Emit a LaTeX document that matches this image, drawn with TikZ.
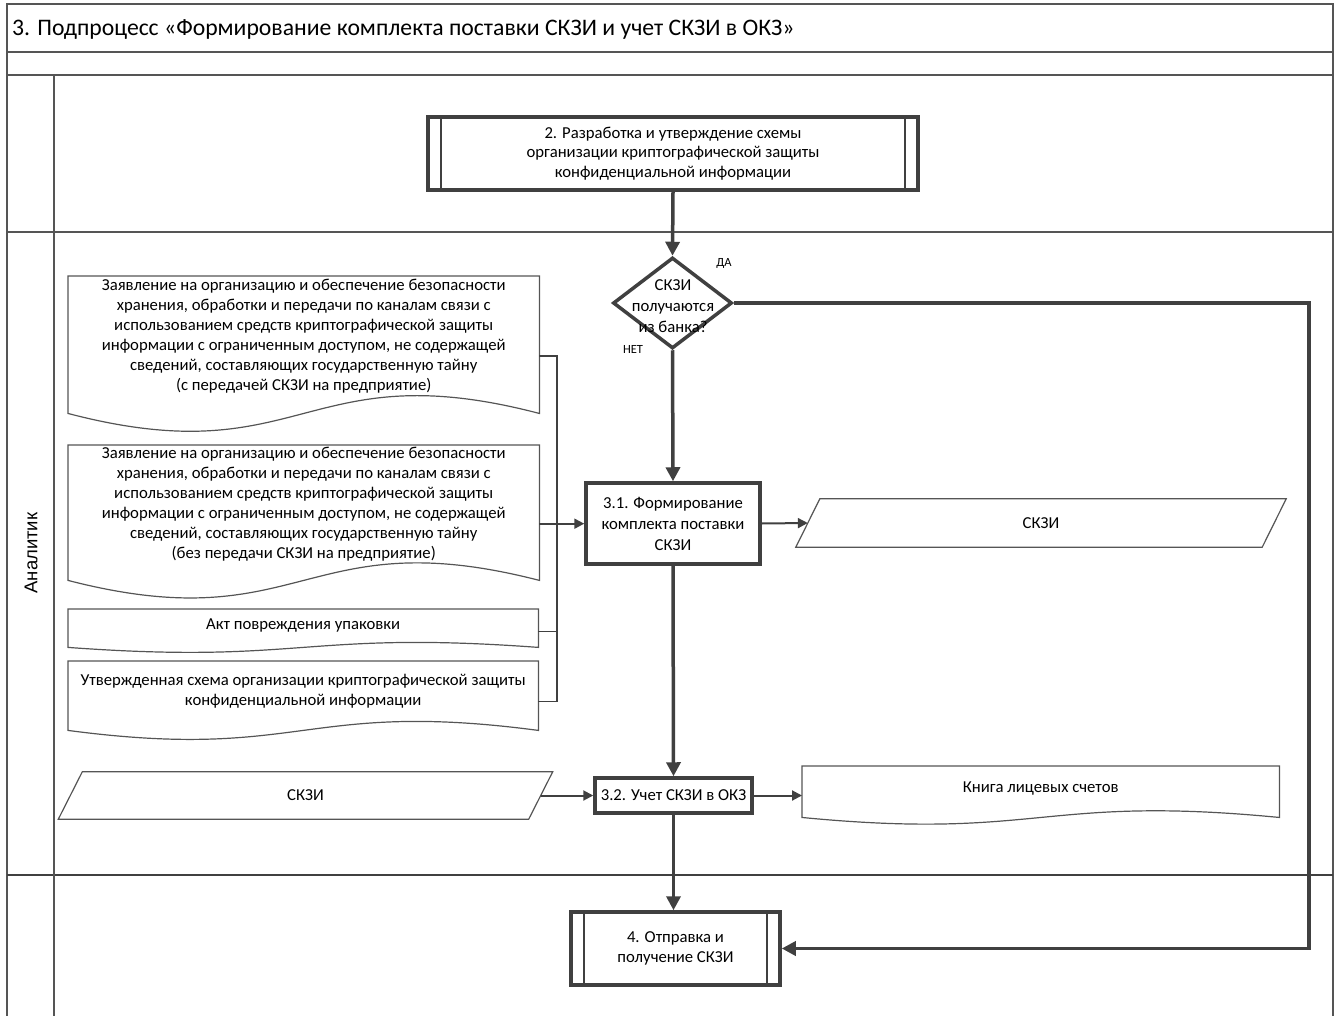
\documentclass[tikz,border=0pt]{standalone}
\usepackage{fontspec}
\setmainfont{Carlito}
\newfontfamily\lanefont{Liberation Sans}
\usetikzlibrary{shapes.geometric,arrows.meta,calc,positioning}

\definecolor{linegray}{HTML}{404040}
\definecolor{framegray}{HTML}{555555}

% document outline with wavy bottom
\newcommand{\docframe}[1]{%
  \draw[docline] (#1.north west) -- (#1.north east)
    -- ($(#1.south east)!-0.136!(#1.north east)$)
    .. controls ($(#1.south)!0.374!(#1.north)$) and ($(#1.south)!-0.646!(#1.north)$)
    .. ($(#1.south west)!-0.136!(#1.north west)$) -- cycle;}
% slanted data outline
\newcommand{\dataframe}[1]{%
  \draw[docline] ([xshift=12pt]#1.north west) -- ([xshift=12pt]#1.north east)
    -- ([xshift=-12pt]#1.south east) -- ([xshift=-12pt]#1.south west) -- cycle;}
% side bars of a predefined process
\newcommand{\subbars}[1]{%
  \draw[procline] ([xshift=15pt]#1.north west) -- ([xshift=15pt]#1.south west)
    ([xshift=-15pt]#1.north east) -- ([xshift=-15pt]#1.south east);}

\begin{document}
\begin{tikzpicture}[x=1pt,y=-1pt,
  txt/.style={font=\fontsize{16.7}{19.5}\selectfont, align=center},
  proc/.style={txt, rectangle, draw=linegray, line width=3.5pt, inner sep=0pt},
  procline/.style={draw=linegray, line width=2pt},
  decision/.style={diamond, draw=linegray, line width=3.5pt, inner sep=0pt,
    minimum width=119pt, minimum height=91pt},
  docbox/.style={rectangle, inner sep=0pt, anchor=north west, align=center,
    font=\fontsize{16.7}{20}\selectfont},
  docline/.style={draw=framegray, line width=1.2pt},
  data/.style={txt, rectangle, inner sep=0pt},
  flow/.style={draw=linegray, line width=3.5pt, -{Triangle[length=14pt,width=14pt]}},
  link/.style={draw=linegray, line width=2pt, -{Triangle[length=10pt,width=10pt]}},
  wire/.style={draw=linegray, line width=1.5pt},
  lane/.style={draw=framegray, line width=1.5pt},
  small/.style={font=\fontsize{12.5}{15}\selectfont}
]
  \useasboundingbox (0,0) rectangle (1340,1016);

  % Pool frame and lanes
  \draw[lane] (7,1016) -- (7,4) -- (1333,4) -- (1333,1016);
  \draw[lane] (7,52) -- (1333,52);
  \draw[lane] (7,75) -- (1333,75);
  \draw[lane] (7,232) -- (1333,232);
  \draw[lane, line width=2.5pt, draw=linegray] (7,875) -- (1333,875);
  \draw[lane] (54,75) -- (54,1016);
  \node[anchor=west, inner sep=0pt, font=\fontsize{23.7}{28}\selectfont] (title) at (12,29)
    {3. Подпроцесс «Формирование комплекта поставки СКЗИ и учет СКЗИ в ОКЗ»};
  \node[rotate=90, font=\lanefont\fontsize{18.5}{22}\selectfont] (analyst) at (31,553) {Аналитик};

  % Process boxes
  \node[proc, minimum width=490pt, minimum height=73pt] (scheme) at (673,153.5)
    {2. Разработка и утверждение схемы\\организации криптографической защиты\\конфиденциальной информации};
  \subbars{scheme}
  \node[decision] (bankq) at (672.5,303) {};
  \node[txt, inner sep=0pt, font=\fontsize{16.7}{21}\selectfont] (bankqtxt) at (673,306)
    {СКЗИ\\получаются\\из банка?};
  \node[small] (yes) at (724,263) {ДА};
  \node[small] (no) at (633,349) {НЕТ};
  \node[proc, minimum width=174pt, minimum height=81pt, font=\fontsize{16.7}{21}\selectfont] (form) at (673,523.5)
    {3.1. Формирование\\комплекта поставки\\СКЗИ};
  \node[data, minimum width=466pt, minimum height=48pt] (skziout) at (1041,523) {СКЗИ};
  \dataframe{skziout}
  \node[proc, minimum width=157pt, minimum height=35pt] (account) at (673.5,795.5) {3.2. Учет СКЗИ в ОКЗ};
  \node[data, minimum width=470pt, minimum height=47pt] (skziin) at (305.5,795.5) {СКЗИ};
  \dataframe{skziin}
  \node[proc, minimum width=209pt, minimum height=73pt] (send) at (675.5,948.5)
    {4. Отправка и\\получение СКЗИ};
  \subbars{send}

  % Input documents
  \node[docbox, minimum width=471pt, minimum height=120.6pt] (doc1) at (68,276)
    {Заявление на организацию и обеспечение безопасности\\хранения, обработки и передачи по каналам связи с\\использованием средств криптографической защиты\\информации с ограниченным доступом, не содержащей\\сведений, составляющих государственную тайну\\(с передачей СКЗИ на предприятие)};
  \node[docbox, minimum width=471pt, minimum height=118.8pt] (doc2) at (68,445)
    {Заявление на организацию и обеспечение безопасности\\хранения, обработки и передачи по каналам связи с\\использованием средств криптографической защиты\\информации с ограниченным доступом, не содержащей\\сведений, составляющих государственную тайну\\(без передачи СКЗИ на предприятие)};
  \node[docbox, minimum width=470pt, minimum height=33.4pt] (doc3) at (68,609)
    {Акт повреждения упаковки};
  \node[docbox, minimum width=470pt, minimum height=60.7pt] (doc4) at (68,661)
    {Утвержденная схема организации криптографической защиты\\конфиденциальной информации};
  \node[docbox, minimum width=477pt, minimum height=44.9pt] (book) at (802,766)
    {Книга лицевых счетов};
  \foreach \d in {doc1,doc2,doc3,doc4,book} {\docframe{\d}}

  % Document connectors
  \coordinate (bus) at (557,0);
  \foreach \d in {1,2,3,4} {\coordinate (in\d) at ($(doc\d.north east)!0.66!(doc\d.south east)$);}
  \draw[wire] (in1) -- (in1 -| bus) -- (in4 -| bus) -- (in4);
  \draw[wire] (in3) -- (in3 -| bus);
  \draw[link] (in2) -- (in2 -| form.west);

  % Flow
  \coordinate (loop) at (1309,948.5);
  \draw[flow] (scheme.south) -- (bankq.north);
  \draw[flow] (bankq.south) -- (form.north);
  \draw[flow] (bankq.east) -| (loop) |- (send.east);
  \draw[link] (form.east) -- (skziout.west);
  \draw[flow] (form.south) -- (account.north);
  \draw[link] (skziin.east) -- (account.west);
  \draw[link] (account.east) -- (account.east -| book.west);
  \draw[flow] (account.south) -- (account.south |- send.north);
\end{tikzpicture}
\end{document}
